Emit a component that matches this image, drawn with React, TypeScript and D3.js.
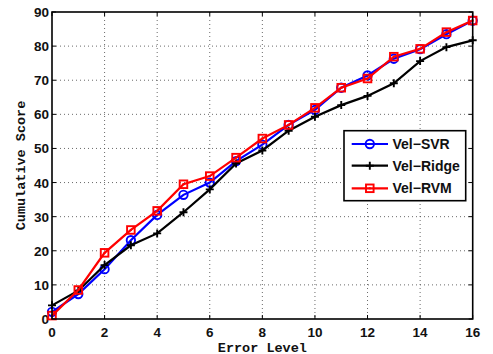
import React from "react";
import * as d3 from "d3";

const levels = [0, 1, 2, 3, 4, 5, 6, 7, 8, 9, 10, 11, 12, 13, 14, 15, 16];
const svr = [2.1, 7.3, 14.6, 23.1, 30.5, 36.4, 40.0, 46.3, 51.1, 56.9, 61.3, 67.8, 71.4, 76.3, 79.1, 83.5, 87.5];
const ridge = [4.0, 8.3, 15.8, 21.6, 25.1, 31.3, 38.0, 45.6, 49.4, 55.2, 59.3, 62.7, 65.4, 69.1, 75.6, 79.7, 81.7];
const rvm = [1.0, 8.5, 19.4, 26.1, 31.7, 39.5, 41.9, 47.3, 52.9, 56.9, 61.9, 67.8, 70.5, 76.9, 79.2, 84.1, 87.5];
const xTicks = [0, 2, 4, 6, 8, 10, 12, 14, 16];
const yTicks = [0, 10, 20, 30, 40, 50, 60, 70, 80, 90];
const seriesNames = ["Vel\u2212SVR", "Vel\u2212Ridge", "Vel\u2212RVM"];
const seriesColors = ["#0000ff", "#000000", "#ff0000"];

const W = 493, H = 354;
const L = 52, T = 12, R = 472.7, B = 319;

function Marker({ kind, x, y, color }: { kind: number; x: number; y: number; color: string }) {
  if (kind === 0) return <circle cx={x} cy={y} r={4.2} fill="none" stroke={color} strokeWidth={1.9} />;
  if (kind === 1)
    return (
      <path d={`M${x - 4},${y}H${x + 4}M${x},${y - 4}V${y + 4}`} stroke={color} strokeWidth={1.9} fill="none" />
    );
  return (
    <g>
      <rect x={x - 3.8} y={y - 3.8} width={7.6} height={7.6} fill="none" stroke={color} strokeWidth={1.9} />
      <rect x={x - 1} y={y - 1} width={2} height={2} fill={color} />
    </g>
  );
}

export default function App() {
  const x = d3.scaleLinear().domain([0, 16]).range([L, R]);
  const y = d3.scaleLinear().domain([0, 90]).range([B, T]);
  const line = d3
    .line<number>()
    .x((_, i) => x(levels[i]))
    .y((d) => y(d));
  const data = [svr, ridge, rvm];
  const tickFont = "'Liberation Sans', Arial, Helvetica, sans-serif";
  const monoFont = "'Liberation Mono', 'Courier New', monospace";
  const legX = 344, legY = 130.7, legW = 121.7, legH = 70;
  const rows = [144, 165.7, 188.3];
  return (
    <svg width={W} height={H} style={{ position: "absolute", left: 0, top: 0, background: "#fff" }}>
      <rect x={0} y={0} width={W} height={H} fill="#fff" />
      {xTicks.slice(1, -1).map((t) => (
        <line key={"gx" + t} x1={x(t)} x2={x(t)} y1={T} y2={B} stroke="#444" strokeWidth={0.8} strokeDasharray="1,3" />
      ))}
      {yTicks.slice(1, -1).map((t) => (
        <line key={"gy" + t} x1={L} x2={R} y1={y(t)} y2={y(t)} stroke="#444" strokeWidth={0.8} strokeDasharray="1,3" />
      ))}
      {xTicks.map((t) => (
        <g key={"tx" + t}>
          <line x1={x(t)} x2={x(t)} y1={B} y2={B - 4} stroke="#000" strokeWidth={1} />
          <line x1={x(t)} x2={x(t)} y1={T} y2={T + 4} stroke="#000" strokeWidth={1} />
          <text x={x(t)} y={B + 18} textAnchor="middle" fontFamily={tickFont} fontWeight="bold" fontSize={13.5} fill="#111">
            {t}
          </text>
        </g>
      ))}
      {yTicks.map((t) => (
        <g key={"ty" + t}>
          <line x1={L} x2={L + 4} y1={y(t)} y2={y(t)} stroke="#000" strokeWidth={1} />
          <line x1={R} x2={R - 4} y1={y(t)} y2={y(t)} stroke="#000" strokeWidth={1} />
          <text x={L - 3} y={y(t) + 5} textAnchor="end" fontFamily={tickFont} fontWeight="bold" fontSize={13.5} fill="#111">
            {t}
          </text>
        </g>
      ))}
      {data.map((s, k) => (
        <g key={"s" + k}>
          <path d={line(s) || ""} fill="none" stroke={seriesColors[k]} strokeWidth={2.2} />
          {s.map((v, i) => (
            <Marker key={i} kind={k} x={x(levels[i])} y={y(v)} color={seriesColors[k]} />
          ))}
        </g>
      ))}
      <rect x={L} y={T} width={R - L} height={B - T} fill="none" stroke="#000" strokeWidth={1.6} />
      <text x={(L + R) / 2} y={351.5} textAnchor="middle" fontFamily={monoFont} fontWeight="bold" fontSize={13.5} fill="#111">
        Error Level
      </text>
      <text
        transform={`translate(24.5,${(T + B) / 2}) rotate(-90)`}
        textAnchor="middle"
        fontFamily={monoFont}
        fontWeight="bold"
        fontSize={13.5}
        fill="#111"
      >
        Cumulative Score
      </text>
      <rect x={legX} y={legY} width={legW} height={legH} fill="#fff" stroke="#000" strokeWidth={1.6} />
      {seriesNames.map((n, k) => (
        <g key={"l" + k}>
          <line x1={351.7} x2={388} y1={rows[k]} y2={rows[k]} stroke={seriesColors[k]} strokeWidth={2.2} />
          <Marker kind={k} x={369.8} y={rows[k]} color={seriesColors[k]} />
          <text x={392.5} y={rows[k] + 5} fontFamily={tickFont} fontWeight="bold" fontSize={14} fill="#111">
            {n}
          </text>
        </g>
      ))}
    </svg>
  );
}
